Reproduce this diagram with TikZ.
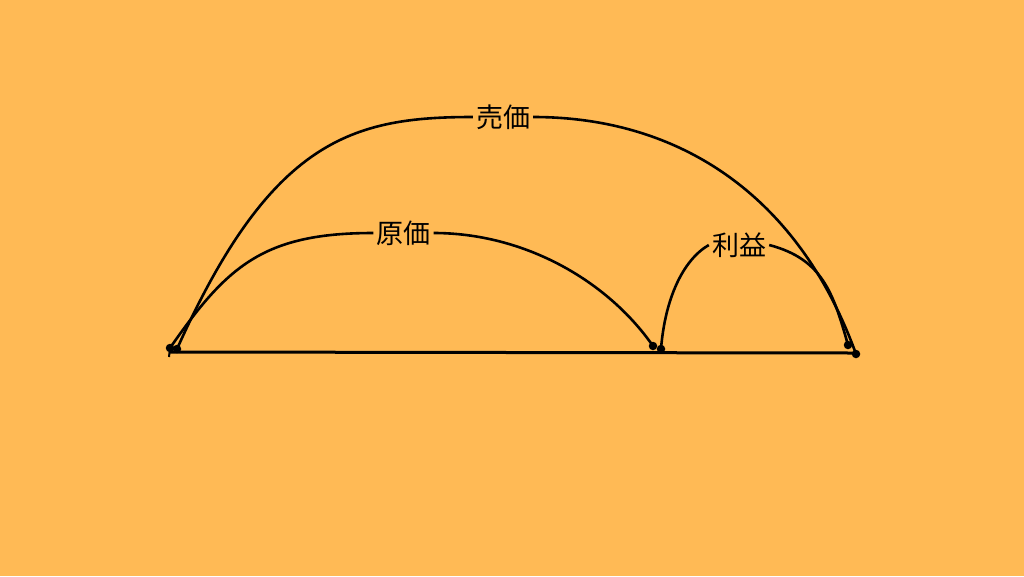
\documentclass[tikz,border=0pt]{standalone}
\usepackage{fontspec}
\newfontfamily\jp{Noto Sans CJK JP}
\definecolor{bg}{HTML}{FFBA55}
\tikzset{
  dot/.style={circle,fill=black,inner sep=0pt,minimum size=8.5pt},
  lab/.style={font=\jp\fontsize{27}{30}\selectfont,inner xsep=3pt,inner ysep=2pt},
  arcline/.style={line width=2.6pt,black},
  baseline/.style={line width=3pt,black}
}
\begin{document}
\begin{tikzpicture}[x=1pt,y=-1pt]
\fill[bg] (0,0) rectangle (1024,576);
\useasboundingbox (0,0) rectangle (1024,576);
% base line
\coordinate (b1) at (170,352);
\coordinate (b2) at (853,353);
\coordinate (tk) at (169,357);
\draw[baseline] (b1) -- (b2);
% dots
\node[dot] (dL1) at (170,348) {};
\node[dot] (dL2) at (177,349) {};
\node[dot] (dM1) at (653,346) {};
\node[dot] (dM2) at (661,349) {};
\node[dot] (dR1) at (848,345) {};
\node[dot] (dR2) at (856,354) {};
\draw[line width=2pt] (dL1.center) -- (tk);
% labels
\node[lab] (sell) at (503,117) {売価};
\node[lab] (cost) at (403.5,233) {原価};
\node[lab] (prof) at (739,245) {利益};
% outer arc
\draw[arcline] (dL2.center) .. controls +(94,-210) and +(-120,0) .. (sell.west);
\draw[arcline] (sell.east) .. controls +(145,0) and +(-58,-160) .. (dR2.center);
% cost arc
\draw[arcline] (dL1.center) .. controls +(57,-82) and +(-110,0) .. (cost.west);
\draw[arcline] (cost.east) .. controls +(90,0) and +(-46,-66) .. (dM1.center);
% profit arc
\draw[arcline] (dM2.center) .. controls +(4,-50) and +(-26,15) .. (prof.west);
\draw[arcline] (prof.east) .. controls +(53,14) and +(-15,-53) .. (dR1.center);
\end{tikzpicture}
\end{document}
